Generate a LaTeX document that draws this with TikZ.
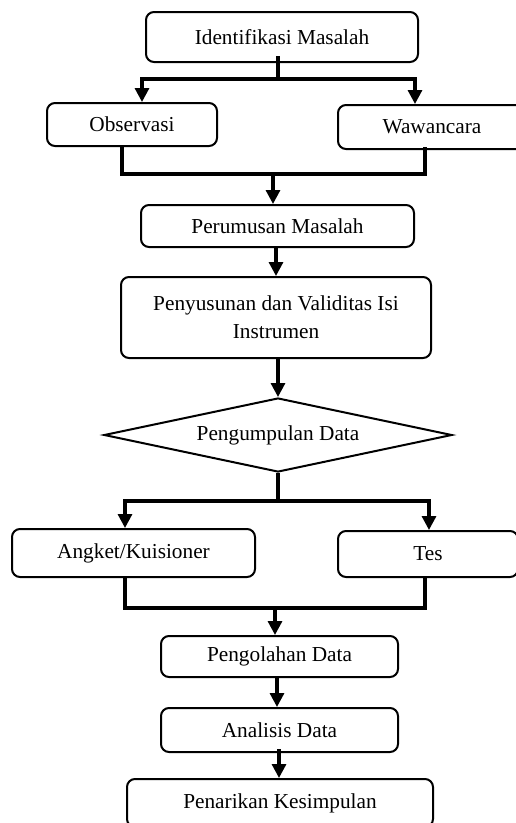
\documentclass[tikz,border=0pt]{standalone}
\usepackage{fontspec}
\setmainfont{Liberation Serif}
\usetikzlibrary{arrows.meta,positioning,calc,shapes.geometric}
\tikzset{
  stepbox/.style={draw, rounded corners=8pt, line width=2pt, align=center, inner sep=0pt,
               font=\fontsize{21.3}{28}\selectfont},
  decision/.style={draw, diamond, aspect=4.7, line width=2pt, inner sep=0pt,
               font=\fontsize{21.3}{28}\selectfont},
  link/.style={line width=3.2pt},
  flow/.style={link, -{Triangle[length=14pt,width=14pt]}},
}
\def\xL{125}
\def\xR{425}
\begin{document}
\begin{tikzpicture}[x=1pt,y=-1pt]
  \useasboundingbox (0,0) rectangle (515,823);
  % steps
  \node[stepbox, minimum width=272pt, minimum height=50pt] (ident) at (282,37) {Identifikasi Masalah};
  \node[stepbox, minimum width=170pt, minimum height=43pt] (obs) at (132,124.5) {Observasi};
  \node[stepbox, minimum width=188pt, minimum height=44pt] (waw) at (432,127) {Wawancara};
  \node[stepbox, minimum width=273pt, minimum height=42pt] (perum) at (277.5,226) {Perumusan Masalah};
  \node[stepbox, minimum width=310pt, minimum height=81pt] (penyus) at (276,317.5) {Penyusunan dan Validitas Isi\\Instrumen};
  \node[decision, minimum width=348pt, minimum height=74pt] (kumpul) at (278,435) {Pengumpulan Data};
  \node[stepbox, minimum width=243pt, minimum height=48pt] (angket) at (133.5,553) {Angket/Kuisioner};
  \node[stepbox, minimum width=180pt, minimum height=46pt] (tes) at (428,554) {Tes};
  \node[stepbox, minimum width=237pt, minimum height=41pt] (olah) at (279.5,656.5) {Pengolahan Data};
  \node[stepbox, minimum width=237pt, minimum height=44pt] (analisis) at (279.5,730) {Analisis Data};
  \node[stepbox, minimum width=306pt, minimum height=48pt] (tarik) at (280,803) {Penarikan Kesimpulan};
  % split and merge points
  \coordinate (s1) at (278,79);
  \coordinate (m1) at (273,174);
  \coordinate (s2) at (278,501);
  \coordinate (m2) at (275,608);
  % connectors
  \draw[link] ([yshift=7pt]ident.south -| s1) -- (s1);
  \draw[flow] (s1) -| ([xshift=10pt]obs.north);
  \draw[flow] (s1) -| ([xshift=-17pt]waw.north);
  \draw[link] ([xshift=-10pt]obs.south) |- (m1) -| ([xshift=-7pt,yshift=3pt]waw.south);
  \draw[flow] (m1) -- (m1 |- perum.north);
  \draw[flow] (perum.south -| 276,0) -- (penyus.north -| 276,0);
  \draw[flow] (penyus.south -| kumpul.north) -- (kumpul.north);
  \draw[link] (kumpul.south) -- (s2);
  \draw[flow] (s2) -| (angket.north -| \xL,0);
  \draw[flow] (s2) -| (tes.north -| 429,0);
  \draw[link] (angket.south -| \xL,0) |- (m2) -| (tes.south -| \xR,0);
  \draw[flow] (m2) -- (m2 |- olah.north);
  \draw[flow] (olah.south -| 277,0) -- (analisis.north -| 277,0);
  \draw[flow] ([yshift=4pt]analisis.south -| 279,0) -- (tarik.north -| 279,0);
\end{tikzpicture}
\end{document}
